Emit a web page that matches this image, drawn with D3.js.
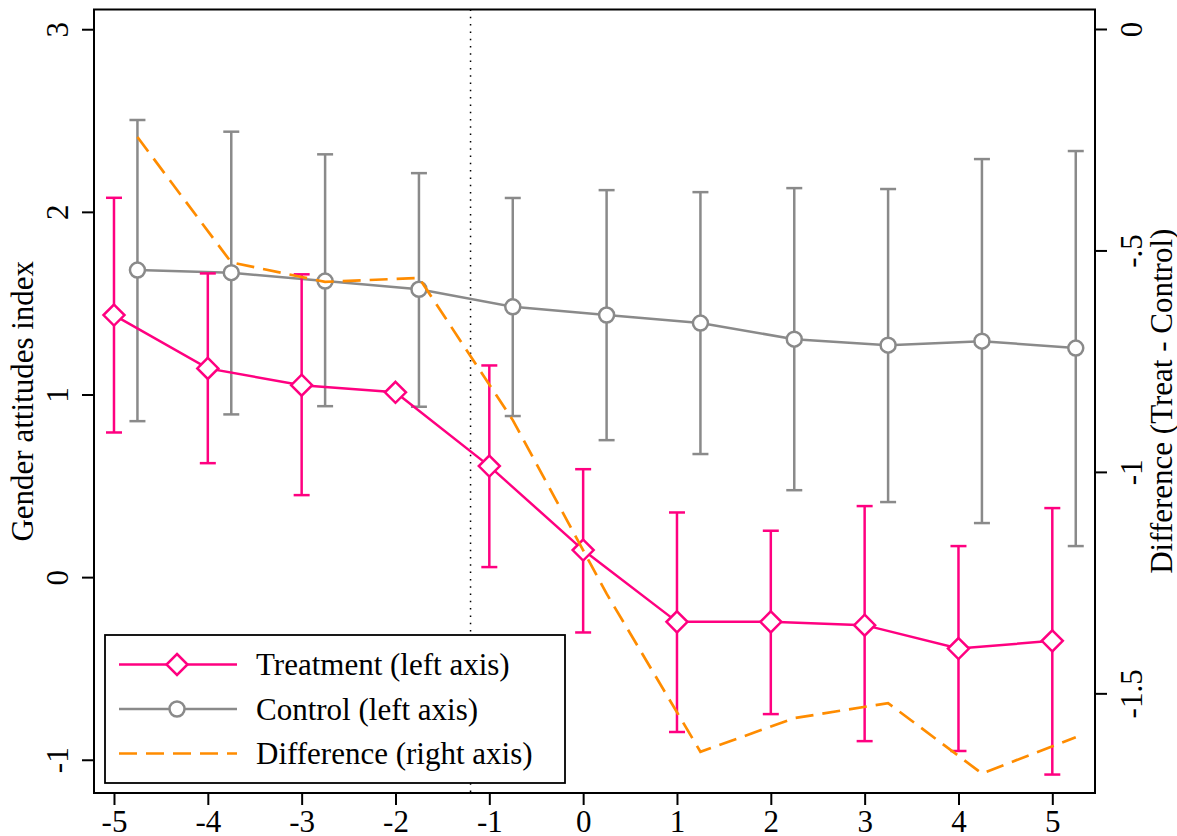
<!DOCTYPE html>
<meta charset="utf-8">
<script src="https://d3js.org/d3.v7.min.js"></script>
<style>
body { margin: 0; background: #fff; }
text { font-family: "Liberation Serif", "Times New Roman", serif; fill: #000; }
</style>
<body>
<div id="chart"></div>
</body>
<script>

// event time (years relative to reform)
const periods = [-5, -4, -3, -2, -1, 0, 1, 2, 3, 4, 5];

// treatment group: mean and 95% CI (left axis)
const treatMean = [1.435, 1.143, 1.051, 1.012, 0.608, 0.148, -0.245, -0.245, -0.263, -0.391, -0.349];
const treatLo   = [0.792, 0.624, 0.449, null, 0.055, -0.303, -0.848, -0.750, -0.898, -0.952, -1.081];
const treatHi   = [2.077, 1.663, 1.658, null, 1.159, 0.591, 0.354, 0.254, 0.389, 0.170, 0.378];

// control group (left axis)
const ctrlMean = [1.681, 1.667, 1.621, 1.576, 1.480, 1.435, 1.391, 1.303, 1.270, 1.292, 1.254];
const ctrlLo   = [0.854, 0.891, 0.936, 0.933, 0.882, 0.750, 0.674, 0.476, 0.411, 0.296, 0.170];
const ctrlHi   = [2.503, 2.439, 2.315, 2.212, 2.076, 2.119, 2.108, 2.130, 2.125, 2.289, 2.333];

// treat - control (right axis)
const diffVal = [-0.244, -0.527, -0.571, -0.562, -0.883, -1.275, -1.632, -1.556, -1.522, -1.681, -1.599];

const leftTicks = [-1, 0, 1, 2, 3];
const rightTicks = [0, -0.5, -1, -1.5];
const legendLabels = ["Treatment (left axis)", "Control (left axis)", "Difference (right axis)"];

const eventLine = -1.2;   // dotted reference line
const shift = 0.25;       // control / difference drawn a bit to the right

const pink = "#ff0080", grey = "#8a8a8a", orange = "#ff8c00";

const W = 1177, H = 836;
const box = {left: 94, right: 1095, top: 9.5, bottom: 793};

const svg = d3.select("#chart").append("svg")
	.attr("width", W)
	.attr("height", H);

const x = d3.scaleLinear().domain([-5.213, 5.455]).range([box.left, box.right]);
const yL = d3.scaleLinear().domain([-1.182, 3.108]).range([box.bottom, box.top]);
const yR = d3.scaleLinear().domain([-1.725, 0.044]).range([box.bottom, box.top]);

const treat = periods.map((p, i) => ({p: p, m: treatMean[i], lo: treatLo[i], hi: treatHi[i]}));
const ctrl = periods.map((p, i) => ({p: p + shift, m: ctrlMean[i], lo: ctrlLo[i], hi: ctrlHi[i]}));
const diff = periods.map((p, i) => ({p: p + shift, v: diffVal[i]}));

// plain hyphen for negative numbers, like the original
const plain = d => String(d);

// dotted vertical line
svg.append("line")
	.attr("x1", x(eventLine)).attr("x2", x(eventLine))
	.attr("y1", box.top).attr("y2", box.bottom)
	.style("stroke", "#000")
	.style("stroke-width", 1.5)
	.style("stroke-dasharray", "1.5,5.8");

function errorBars(data, color) {
	const g = svg.append("g")
		.style("stroke", color)
		.style("stroke-width", 2.5)
		.style("fill", "none");
	const d = data.filter(e => e.lo != null);
	g.selectAll(".v").data(d).enter().append("line")
		.attr("x1", e => x(e.p)).attr("x2", e => x(e.p))
		.attr("y1", e => yL(e.lo)).attr("y2", e => yL(e.hi));
	g.selectAll(".t").data(d).enter().append("line")
		.attr("x1", e => x(e.p) - 8).attr("x2", e => x(e.p) + 8)
		.attr("y1", e => yL(e.hi)).attr("y2", e => yL(e.hi));
	g.selectAll(".b").data(d).enter().append("line")
		.attr("x1", e => x(e.p) - 8).attr("x2", e => x(e.p) + 8)
		.attr("y1", e => yL(e.lo)).attr("y2", e => yL(e.lo));
}

const diamond = "M0,-10.5L10.5,0L0,10.5L-10.5,0Z";

// control
errorBars(ctrl, grey);
svg.append("path")
	.datum(ctrl)
	.attr("d", d3.line().x(e => x(e.p)).y(e => yL(e.m)))
	.style("fill", "none").style("stroke", grey).style("stroke-width", 2.5);
svg.selectAll(".ctrlpt").data(ctrl).enter().append("circle")
	.attr("cx", e => x(e.p)).attr("cy", e => yL(e.m))
	.attr("r", 7.5)
	.style("fill", "#fff").style("stroke", grey).style("stroke-width", 2.5);

// treatment
errorBars(treat, pink);
svg.append("path")
	.datum(treat)
	.attr("d", d3.line().x(e => x(e.p)).y(e => yL(e.m)))
	.style("fill", "none").style("stroke", pink).style("stroke-width", 2.5);
svg.selectAll(".treatpt").data(treat).enter().append("path")
	.attr("d", diamond)
	.attr("transform", e => `translate(${x(e.p)},${yL(e.m)})`)
	.style("fill", "#fff").style("stroke", pink).style("stroke-width", 2.5);

// difference
svg.append("path")
	.datum(diff)
	.attr("d", d3.line().x(e => x(e.p)).y(e => yR(e.v)))
	.style("fill", "none").style("stroke", orange).style("stroke-width", 2.7)
	.style("stroke-dasharray", "18,9");

// axes
const axL = svg.append("g")
	.attr("transform", `translate(${box.left},0)`)
	.call(d3.axisLeft(yL).tickValues(leftTicks).tickSize(12).tickSizeOuter(0).tickFormat(plain));
axL.selectAll("text")
	.attr("x", 0).attr("y", 0).attr("dy", 0)
	.attr("transform", "translate(-26,0) rotate(-90)")
	.attr("text-anchor", "middle");

const axR = svg.append("g")
	.attr("transform", `translate(${box.right},0)`)
	.call(d3.axisRight(yR).tickValues(rightTicks).tickSize(12).tickSizeOuter(0)
		.tickFormat(d => d === 0 ? "0" : String(d).replace("0.", ".")));
axR.selectAll("text")
	.attr("x", 0).attr("y", 0).attr("dy", 0)
	.attr("transform", "translate(47,0) rotate(-90)")
	.attr("text-anchor", "middle");

const axB = svg.append("g")
	.attr("transform", `translate(0,${box.bottom})`)
	.call(d3.axisBottom(x).tickValues(periods).tickSize(12).tickSizeOuter(0).tickFormat(plain));
axB.selectAll("text").attr("y", 39).attr("dy", 0);

[axL, axR, axB].forEach(a => {
	a.select(".domain").remove();
	a.selectAll("line").style("stroke", "#000").style("stroke-width", 2);
	a.selectAll("text").style("font-size", "31px").style("font-family", "Liberation Serif");
});

// box round the plot
svg.append("rect")
	.attr("x", box.left).attr("y", box.top)
	.attr("width", box.right - box.left).attr("height", box.bottom - box.top)
	.style("fill", "none").style("stroke", "#000").style("stroke-width", 2);

// axis titles
svg.append("text")
	.attr("transform", `translate(33,${(box.top + box.bottom) / 2}) rotate(-90)`)
	.attr("text-anchor", "middle")
	.style("font-size", "31px")
	.text("Gender attitudes index");

svg.append("text")
	.attr("transform", `translate(1172,${(box.top + box.bottom) / 2}) rotate(-90)`)
	.attr("text-anchor", "middle")
	.style("font-size", "31px")
	.text("Difference (Treat - Control)");

// legend
const leg = svg.append("g");
leg.append("rect")
	.attr("x", 105).attr("y", 635).attr("width", 460).attr("height", 148)
	.style("fill", "#fff").style("stroke", "#000").style("stroke-width", 1.8);

const rows = [
	{label: legendLabels[0], color: pink, kind: "diamond"},
	{label: legendLabels[1], color: grey, kind: "circle"},
	{label: legendLabels[2], color: orange, kind: "dash"}
];
rows.forEach((r, i) => {
	const cy = 664.5 + i * 44.5;
	leg.append("line")
		.attr("x1", 119).attr("x2", 237).attr("y1", cy).attr("y2", cy)
		.style("stroke", r.color)
		.style("stroke-width", r.kind == "dash" ? 2.7 : 2.5)
		.style("stroke-dasharray", r.kind == "dash" ? "18,9" : null);
	if (r.kind == "diamond") {
		leg.append("path").attr("d", diamond)
			.attr("transform", `translate(177,${cy})`)
			.style("fill", "#fff").style("stroke", r.color).style("stroke-width", 2.5);
	} else if (r.kind == "circle") {
		leg.append("circle").attr("cx", 177).attr("cy", cy).attr("r", 7.5)
			.style("fill", "#fff").style("stroke", r.color).style("stroke-width", 2.5);
	}
	leg.append("text")
		.attr("x", 256).attr("y", cy + 10.5)
		.style("font-size", "31px")
		.text(r.label);
});

</script>
